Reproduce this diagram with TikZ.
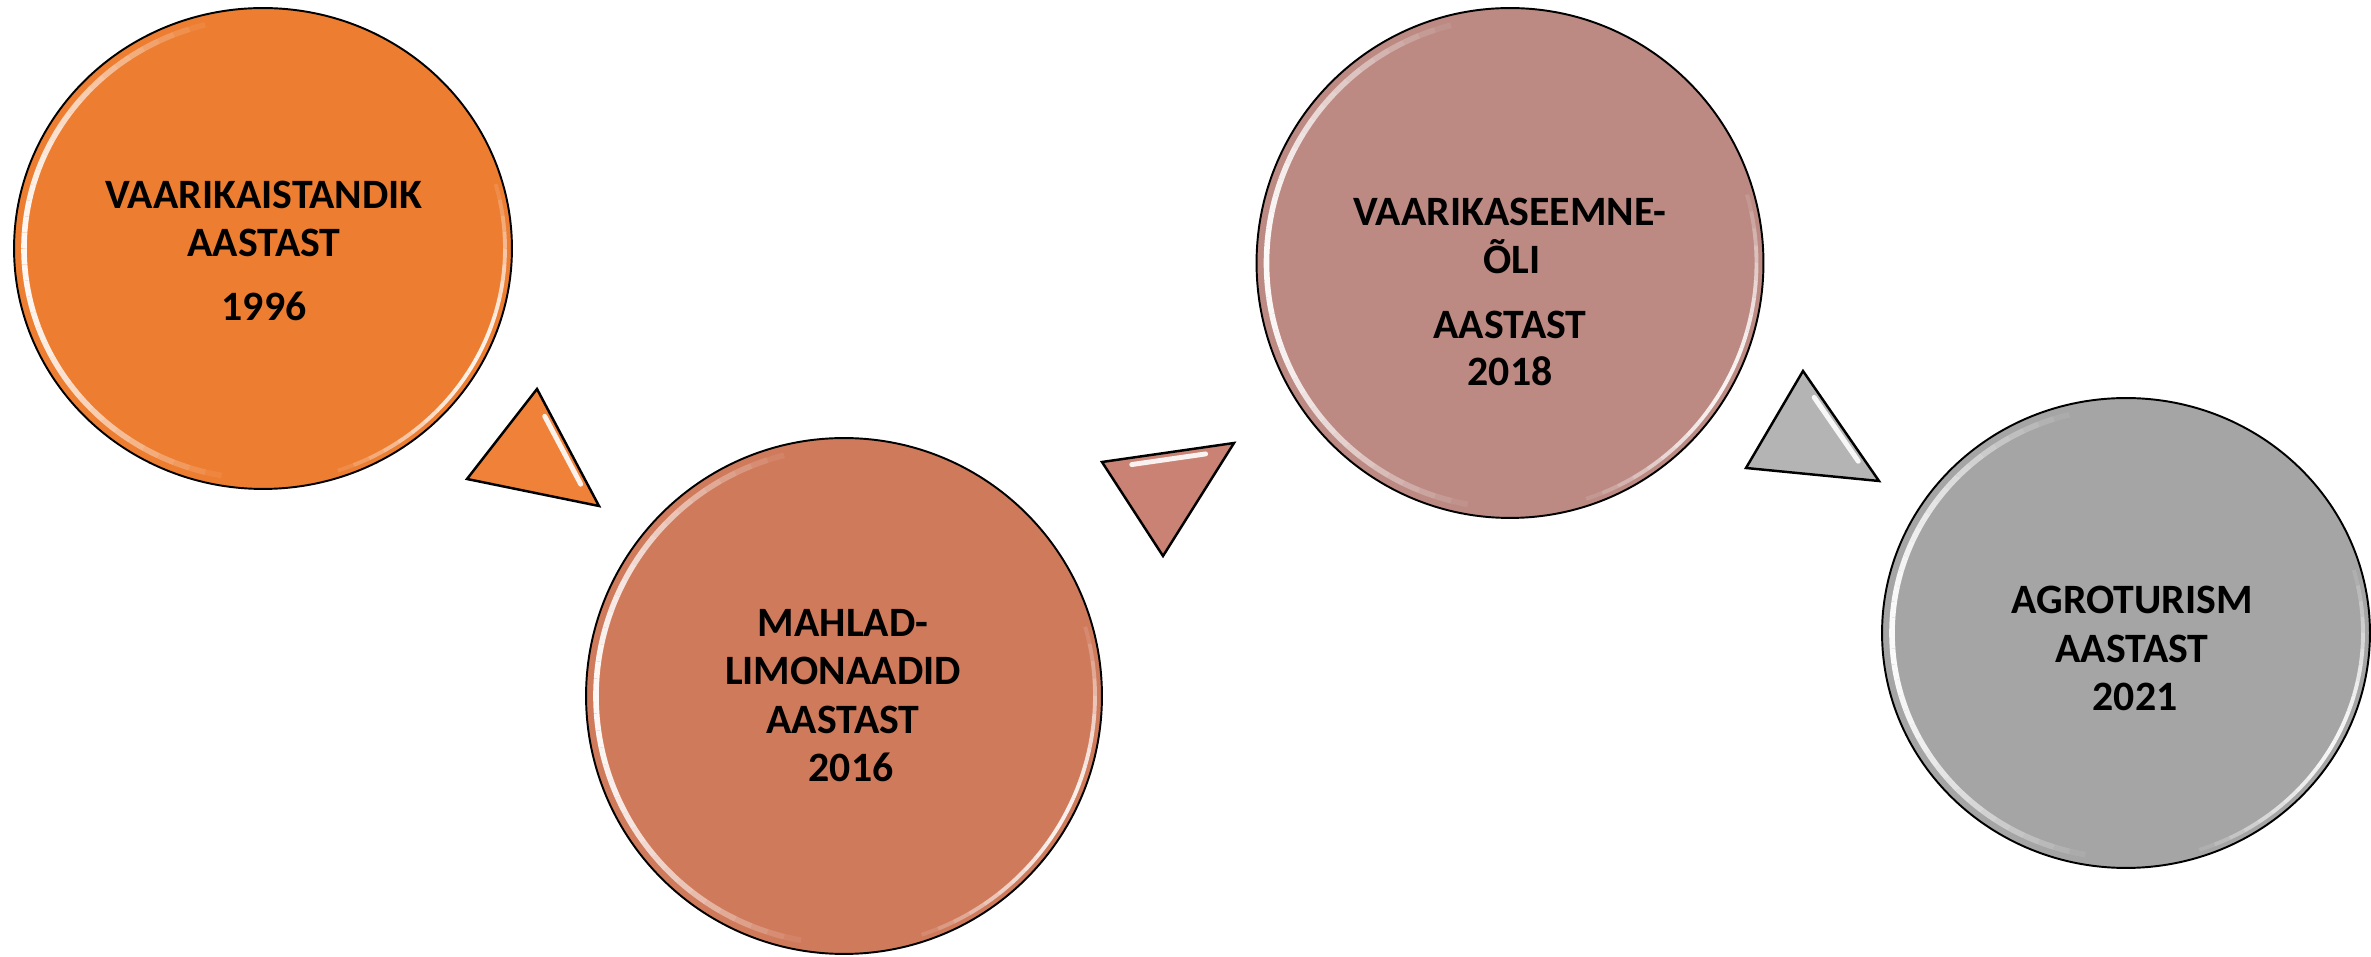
\documentclass[tikz,border=0pt]{standalone}
\usepackage{fontspec}
\setmainfont{Carlito}
\usetikzlibrary{calc,shapes.geometric}
\definecolor{cOne}{HTML}{ED7D31}
\definecolor{cTwo}{HTML}{D07A5C}
\definecolor{cThree}{HTML}{BC8A83}
\definecolor{cFour}{HTML}{A5A5A5}
\definecolor{tOne}{HTML}{EF8238}
\definecolor{tTwo}{HTML}{C98274}
\definecolor{tThree}{HTML}{B4B4B4}
\tikzset{
  ball/.style={ellipse, draw=black, line width=1.1pt, inner sep=0pt},
  lbl/.style={font=\bfseries\fontsize{23.8}{27.5}\selectfont, text height=15.3pt, text depth=0pt, inner sep=0pt, anchor=center},
  tri/.style={draw=black, line width=1.4pt, line join=miter},
  shine/.style={white, line cap=round, line width=2.8pt, opacity=0.9},
}
\newcommand\glossring[3]{%
  \foreach \a in {100,104,...,256}{%
    \pgfmathsetmacro\sv{sin((\a-100)/160*180)}%
    \pgfmathsetmacro\op{0.95*\sv}%
    \draw[white, line width=3.2pt, opacity=\op] ([shift={(\a:#2-10 and #3-10)}]#1.center) arc[start angle=\a, end angle=\a+4, x radius=#2-10, y radius=#3-10];
  }%
  \foreach \a in {-76,-72,...,12}{%
    \pgfmathsetmacro\sv{sin((\a+76)/92*180)}%
    \pgfmathsetmacro\op{0.9*\sv}%
    \draw[white, line width=2.2pt, opacity=\op] ([shift={(\a:#2-7 and #3-7)}]#1.center) arc[start angle=\a, end angle=\a+4, x radius=#2-7, y radius=#3-7];
  }%
}
\begin{document}
\begin{tikzpicture}[x=0.02cm, y=0.02cm]
\useasboundingbox (0,0) rectangle (2371,957);
% circles
\node[ball, fill=cOne, minimum width=9.96cm, minimum height=9.62cm] (c1) at (263,708.5) {};
\node[ball, fill=cTwo, minimum width=10.32cm, minimum height=10.32cm] (c2) at (844,261) {};
\node[ball, fill=cThree, minimum width=10.14cm, minimum height=10.2cm] (c3) at (1510,694) {};
\node[ball, fill=cFour, minimum width=9.76cm, minimum height=9.4cm] (c4) at (2126,324) {};
\glossring{c1}{249}{240.5}
\glossring{c2}{258}{258}
\glossring{c3}{253.5}{255}
\glossring{c4}{244}{235}
% triangles
\coordinate (t1a) at (537,568);
\coordinate (t1b) at (467,478);
\coordinate (t1c) at (599,451);
\coordinate (t1g) at (534,499);
\filldraw[tri, fill=tOne] (t1a) -- (t1b) -- (t1c) -- cycle;
\draw[shine] ($($(t1a)!0.16!(t1c)$)!0.17!(t1g)$) -- ($($(t1a)!0.86!(t1c)$)!0.17!(t1g)$);
\coordinate (t2a) at (1102,495);
\coordinate (t2b) at (1234,514);
\coordinate (t2c) at (1163,401);
\coordinate (t2g) at (1166,470);
\filldraw[tri, fill=tTwo] (t2a) -- (t2b) -- (t2c) -- cycle;
\draw[shine] ($($(t2a)!0.16!(t2b)$)!0.2!(t2g)$) -- ($($(t2a)!0.86!(t2b)$)!0.2!(t2g)$);
\coordinate (t3a) at (1803,586);
\coordinate (t3b) at (1746,489);
\coordinate (t3c) at (1879,476);
\coordinate (t3g) at (1809,517);
\filldraw[tri, fill=tThree] (t3a) -- (t3b) -- (t3c) -- cycle;
\draw[shine] ($($(t3a)!0.16!(t3c)$)!0.17!(t3g)$) -- ($($(t3a)!0.86!(t3c)$)!0.17!(t3g)$);
% texts
\node[lbl] (l11) at (264,762) {VAARIKAISTANDIK};
\node[lbl] (l12) at (264,714) {AASTAST};
\node[lbl] (l13) at (264,650) {1996};
\node[lbl] (l21) at (843,334) {MAHLAD-};
\node[lbl] (l22) at (843,286) {LIMONAADID};
\node[lbl] (l23) at (843,237) {AASTAST};
\node[lbl] (l24) at (851,189) {2016};
\node[lbl] (l31) at (1510,745) {VAARIKASEEMNE-};
\node[lbl] (l32) at (1512,697) {ÕLI};
\node[lbl] (l33) at (1510,632) {AASTAST};
\node[lbl] (l34) at (1510,585) {2018};
\node[lbl] (l41) at (2132,357) {AGROTURISM};
\node[lbl] (l42) at (2132,308) {AASTAST};
\node[lbl] (l43) at (2135,260) {2021};
\end{tikzpicture}
\end{document}
